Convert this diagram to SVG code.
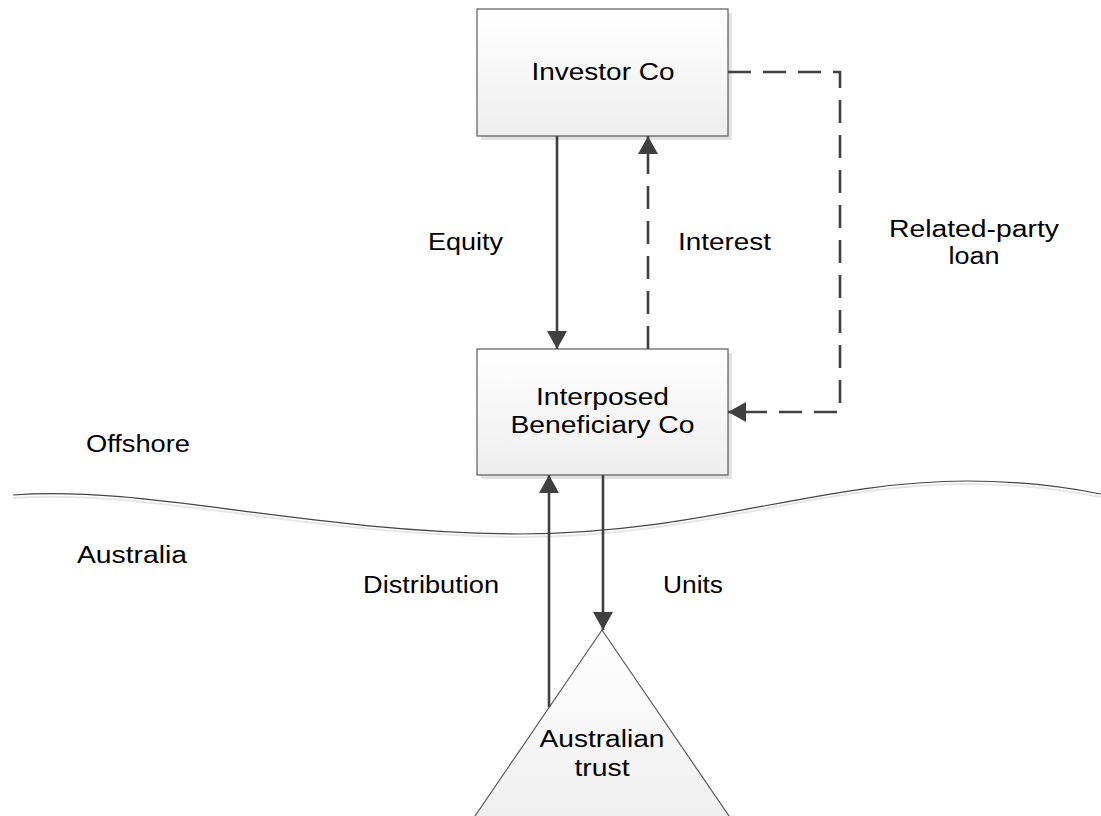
<svg xmlns="http://www.w3.org/2000/svg" width="1101" height="816" viewBox="0 0 1101 816">
  <style>
    text { font-family: "Liberation Sans", Arial, sans-serif; font-size: 23px; fill: #000; }
    .c { text-anchor: middle; }
    .box { fill: url(#g); stroke: #5a5a5a; stroke-width: 1.2; }
    .shadow { fill: #e2e2e2; }
    .ln { fill: none; stroke: #404040; stroke-width: 2.6; }
    .dash { stroke-dasharray: 23 12; }
  </style>
  <defs>
    <linearGradient id="g" x1="0" y1="0" x2="0" y2="1">
      <stop offset="0" stop-color="#ffffff"/>
      <stop offset="1" stop-color="#eeeeee"/>
    </linearGradient>
    <marker id="ah" viewBox="0 0 18 20" refX="18" refY="10" markerWidth="18" markerHeight="20" markerUnits="userSpaceOnUse" orient="auto">
      <path d="M0,0 L18,10 L0,20 Z" fill="#404040"/>
    </marker>
  </defs>

  <g id="boundary">
    <path d="M13,498 C150,488 300,535 520,537 C700,537 820,484 967,484 C1010,484 1060,489 1101,497" fill="none" stroke="#e6e6e6" stroke-width="2"/>
    <path d="M13,495 C150,485 300,532 520,534 C700,534 820,481 967,481 C1010,481 1060,486 1101,494" fill="none" stroke="#444" stroke-width="1.2"/>
    <text x="86" y="452" textLength="104" lengthAdjust="spacingAndGlyphs">Offshore</text>
    <text x="77" y="563" textLength="110" lengthAdjust="spacingAndGlyphs">Australia</text>
  </g>

  <g id="investor-co">
    <rect class="shadow" x="481" y="13" width="251" height="127"/>
    <rect class="box" x="477" y="9" width="251" height="127"/>
    <text class="c" x="603" y="80" textLength="143" lengthAdjust="spacingAndGlyphs">Investor Co</text>
  </g>

  <g id="interposed-beneficiary-co">
    <rect class="shadow" x="481" y="353" width="251" height="126"/>
    <rect class="box" x="477" y="349" width="251" height="126"/>
    <text class="c" x="602.5" y="405" textLength="133" lengthAdjust="spacingAndGlyphs">Interposed</text>
    <text class="c" x="602.5" y="433" textLength="184" lengthAdjust="spacingAndGlyphs">Beneficiary Co</text>
  </g>

  <g id="australian-trust">
    <path d="M602,630 L738.6,830 L465.4,830 Z" class="box"/>
    <text class="c" x="602" y="747" textLength="125" lengthAdjust="spacingAndGlyphs">Australian</text>
    <text class="c" x="602" y="776" textLength="55" lengthAdjust="spacingAndGlyphs">trust</text>
  </g>

  <g id="connectors">
    <line class="ln" x1="557" y1="136" x2="557" y2="349" marker-end="url(#ah)"/>
    <line class="ln dash" x1="648" y1="349" x2="648" y2="136" marker-end="url(#ah)"/>
    <polyline class="ln dash" points="728,72 840,72 840,412 728,412" marker-end="url(#ah)"/>
    <line class="ln" x1="549" y1="707" x2="549" y2="475" marker-end="url(#ah)"/>
    <line class="ln" x1="603" y1="475" x2="603" y2="630" marker-end="url(#ah)"/>
  </g>

  <g id="labels">
    <text x="428" y="250" textLength="75" lengthAdjust="spacingAndGlyphs">Equity</text>
    <text x="678" y="250" textLength="93" lengthAdjust="spacingAndGlyphs">Interest</text>
    <text class="c" x="974" y="237" textLength="170" lengthAdjust="spacingAndGlyphs">Related-party</text>
    <text class="c" x="974" y="264" textLength="51" lengthAdjust="spacingAndGlyphs">loan</text>
    <text x="363" y="593" textLength="136" lengthAdjust="spacingAndGlyphs">Distribution</text>
    <text x="663" y="593" textLength="60" lengthAdjust="spacingAndGlyphs">Units</text>
  </g>
</svg>
